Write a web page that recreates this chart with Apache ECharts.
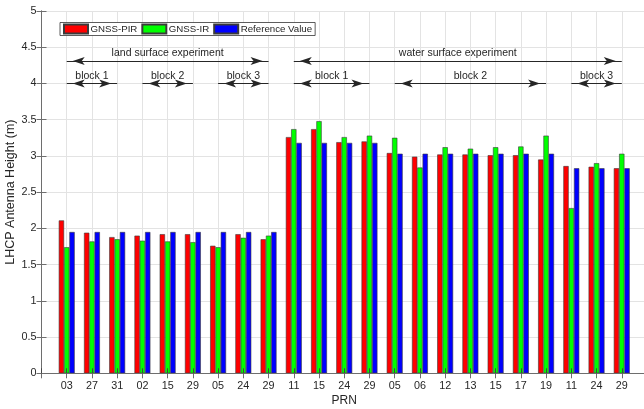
<!DOCTYPE html>
<html>
<head>
<meta charset="utf-8">
<script src="https://cdn.jsdelivr.net/npm/echarts@6/dist/echarts.min.js"></script>
<style>
html,body{margin:0;padding:0;background:#fff;}
#chart{width:644px;height:409px;}
</style>
</head>
<body>
<div id="chart"></div>
<script>
const prn = ['03','27','31','02','15','29','05','24','29','11','15','24','29','05','06','12','13','15','17','19','11','24','29'];
const gnssPIR = [2.11,1.94,1.88,1.90,1.92,1.92,1.76,1.92,1.85,3.26,3.37,3.19,3.20,3.04,2.99,3.02,3.02,3.01,3.01,2.95,2.86,2.85,2.83];
const gnssIR  = [1.74,1.82,1.85,1.83,1.82,1.81,1.74,1.87,1.90,3.37,3.48,3.26,3.28,3.25,2.84,3.12,3.10,3.12,3.13,3.28,2.28,2.90,3.03];
const refValue = [1.95,1.95,1.95,1.95,1.95,1.95,1.95,1.95,1.95,3.18,3.18,3.18,3.18,3.03,3.03,3.03,3.03,3.03,3.03,3.03,2.83,2.83,2.83];
const yTicks = [0,0.5,1,1.5,2,2.5,3,3.5,4,4.5,5];
const experiments = [
  {name:'land surface experiment', from:1, to:9},
  {name:'water surface experiment', from:10, to:23}
];
const blocks = [
  {name:'block 1', from:1, to:3},
  {name:'block 2', from:4, to:6},
  {name:'block 3', from:7, to:9},
  {name:'block 1', from:10, to:13},
  {name:'block 2', from:14, to:20},
  {name:'block 3', from:21, to:23}
];
const seriesNames = ['GNSS-PIR','GNSS-IR','Reference Value'];
const seriesColors = ['#ff0000','#00ff00','#0000ff'];
const seriesData = [gnssPIR, gnssIR, refValue];

const EXP_Y = 4.31, BLOCK_Y = 4.0;
const FONT = 'Liberation Sans, Arial, Helvetica, sans-serif';
const TXT = '#262626';
const AX = '#6e6e6e';
const HEAD_W = 6, HEAD_L = 12;

const chart = echarts.init(document.getElementById('chart'), null, {renderer:'canvas'});

const xBase = {type:'value', min:0, max:prn.length+1, interval:1, gridIndex:0};

const barSeries = seriesNames.map((n,k)=>({
  name:n, type:'bar', xAxisIndex:0, yAxisIndex:0,
  barWidth:5.3, barGap:'0%',
  data: seriesData[k].map((v,i)=>[i+1, v]),
  itemStyle:{color:seriesColors[k], borderColor:'#3a3a3a', borderWidth:0.6},
  emphasis:{disabled:true},
  z:2
}));

const spans = experiments.map(o=>({o:o, y:EXP_Y})).concat(blocks.map(o=>({o:o, y:BLOCK_Y})));

const annotLines = {
  name:'annotLines', type:'line', xAxisIndex:0, yAxisIndex:0, data:[], silent:true,
  markLine:{
    silent:true, animation:false,
    symbol:['none','none'],
    lineStyle:{color:TXT, width:1, type:'solid'},
    label:{show:true, position:'insideMiddleTop', distance:2, formatter:'{b}',
           color:TXT, fontFamily:FONT, fontSize:10.5},
    emphasis:{disabled:true},
    data: spans.map(s=>[{coord:[s.o.from, s.y], name:s.o.name},{coord:[s.o.to, s.y]}])
  },
  z:5
};

const heads = [];
spans.forEach(s=>{
  heads.push({value:[s.o.from, s.y], symbolRotate:90, symbolOffset:[HEAD_L/2, 0]});
  heads.push({value:[s.o.to, s.y], symbolRotate:-90, symbolOffset:[-HEAD_L/2, 0]});
});
const annotHeads = {
  name:'annotHeads', type:'scatter', xAxisIndex:0, yAxisIndex:0, silent:true,
  symbol:'arrow', symbolSize:[HEAD_W, HEAD_L],
  itemStyle:{color:TXT, opacity:1},
  emphasis:{disabled:true},
  data: heads,
  z:6
};

chart.setOption({
  animation:false,
  backgroundColor:'#fff',
  grid:{left:41.5, top:11, width:605.5, height:362.3, containLabel:false, outerBoundsMode:'none'},
  legend:{
    data:seriesNames, left:60, top:22.5, orient:'horizontal',
    icon:'rect', itemWidth:24, itemHeight:9, itemGap:4,
    padding:[1,3,1,3],
    backgroundColor:'#fff', borderColor:'#333', borderWidth:0.8,
    textStyle:{color:TXT, fontFamily:FONT, fontSize:9.7, padding:[0,0,0,-2.5]}
  },
  xAxis:[
    Object.assign({}, xBase, {
      position:'bottom', z:0,
      name:'PRN', nameLocation:'middle', nameGap:21, nameMoveOverlap:false,
      nameTextStyle:{color:TXT, fontFamily:FONT, fontSize:12, verticalAlign:'top'},
      axisLine:{show:true, lineStyle:{color:AX, width:1}},
      axisTick:{show:false},
      splitLine:{show:true, lineStyle:{color:'#e3e3e3', width:1}},
      axisLabel:{color:TXT, fontFamily:FONT, fontSize:10.8, margin:7,
        showMinLabel:true, showMaxLabel:true,
        formatter:v=>prn[v-1]||''}
    }),
    Object.assign({}, xBase, {
      position:'top', z:6,
      axisLine:{show:true, lineStyle:{color:AX, width:1}},
      axisTick:{show:true, inside:true, length:5, lineStyle:{color:AX}},
      splitLine:{show:false}, axisLabel:{show:false}
    }),
    Object.assign({}, xBase, {
      position:'bottom', z:6,
      axisLine:{show:false},
      axisTick:{show:true, inside:true, length:5, lineStyle:{color:'#444'}},
      splitLine:{show:false}, axisLabel:{show:false}
    })
  ],
  yAxis:[
    {type:'value', min:yTicks[0], max:yTicks[yTicks.length-1], interval:0.5, position:'left', z:0,
     name:'LHCP Antenna Height (m)', nameLocation:'middle', nameGap:24, nameMoveOverlap:false,
     nameTextStyle:{color:TXT, fontFamily:FONT, fontSize:12.5},
     axisLine:{show:true, lineStyle:{color:AX, width:1}},
     axisTick:{show:true, inside:true, length:5, lineStyle:{color:AX}},
     splitLine:{show:true, lineStyle:{color:'#e3e3e3', width:1}},
     axisLabel:{color:TXT, fontFamily:FONT, fontSize:10.8, margin:5}
    },
    {type:'value', min:yTicks[0], max:yTicks[yTicks.length-1], interval:0.5, position:'right', z:6,
     axisLine:{show:true, lineStyle:{color:AX, width:1}},
     axisTick:{show:true, inside:true, length:5, lineStyle:{color:AX}},
     splitLine:{show:false}, axisLabel:{show:false}
    }
  ],
  series: barSeries.concat([annotLines, annotHeads])
});
</script>
</body>
</html>
